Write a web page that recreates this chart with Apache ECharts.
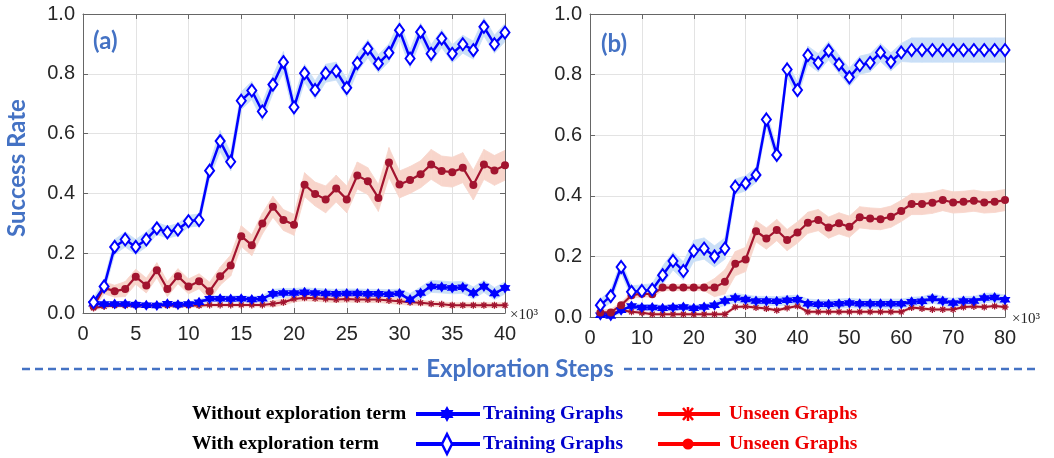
<!DOCTYPE html>
<html><head><meta charset="utf-8">
<script src="https://cdn.jsdelivr.net/npm/echarts@6/dist/echarts.min.js"></script>
<style>html,body{margin:0;padding:0;background:#fff;}#c{width:1054px;height:458px;}</style>
</head><body><div id="c"></div>
<script>
// ---------- DATA ----------
const yTickLabels = ['0.0','0.2','0.4','0.6','0.8','1.0'];
const stepsA = [1,2,3,4,5,6,7,8,9,10,11,12,13,14,15,16,17,18,19,20,21,22,23,24,25,26,27,28,29,30,31,32,33,34,35,36,37,38,39,40];
const stepsB = [2,4,6,8,10,12,14,16,18,20,22,24,26,28,30,32,34,36,38,40,42,44,46,48,50,52,54,56,58,60,62,64,66,68,70,72,74,76,78,80];

// panel (a)
const aTrainWith = [0.036,0.089,0.221,0.246,0.221,0.246,0.283,0.270,0.279,0.307,0.311,0.476,0.575,0.506,0.710,0.744,0.674,0.764,0.839,0.688,0.802,0.746,0.802,0.809,0.753,0.836,0.884,0.834,0.870,0.946,0.851,0.940,0.867,0.918,0.867,0.899,0.879,0.957,0.899,0.938];
const aUnseenWith = [0.022,0.084,0.073,0.080,0.121,0.092,0.143,0.080,0.123,0.089,0.106,0.073,0.123,0.159,0.257,0.227,0.299,0.355,0.311,0.295,0.429,0.398,0.380,0.416,0.380,0.460,0.441,0.385,0.503,0.430,0.445,0.464,0.497,0.475,0.471,0.486,0.428,0.497,0.477,0.494];
const aTrainWithout = [0.031,0.030,0.030,0.030,0.028,0.026,0.025,0.031,0.028,0.030,0.036,0.048,0.048,0.047,0.048,0.045,0.048,0.064,0.067,0.067,0.069,0.067,0.065,0.064,0.065,0.065,0.064,0.064,0.063,0.065,0.045,0.067,0.089,0.087,0.084,0.086,0.067,0.089,0.065,0.084];
const aUnseenWithout = [0.017,0.022,0.025,0.025,0.025,0.025,0.025,0.025,0.025,0.025,0.025,0.027,0.027,0.027,0.027,0.027,0.027,0.031,0.036,0.047,0.051,0.049,0.047,0.045,0.047,0.045,0.045,0.045,0.042,0.039,0.036,0.034,0.031,0.029,0.026,0.026,0.026,0.026,0.026,0.026];
// half-widths of shaded bands (a)
const aTrainWithSpread = [0.015,0.02,0.025,0.025,0.025,0.025,0.02,0.02,0.02,0.02,0.02,0.025,0.035,0.03,0.03,0.03,0.03,0.03,0.035,0.03,0.03,0.03,0.03,0.03,0.03,0.03,0.03,0.03,0.03,0.03,0.03,0.03,0.03,0.03,0.03,0.03,0.03,0.03,0.03,0.03];
const aUnseenWithSpread = [0.01,0.02,0.02,0.025,0.025,0.025,0.025,0.025,0.025,0.025,0.025,0.03,0.03,0.035,0.035,0.035,0.035,0.035,0.035,0.035,0.04,0.04,0.045,0.045,0.045,0.045,0.045,0.045,0.05,0.045,0.045,0.045,0.05,0.05,0.05,0.05,0.05,0.05,0.05,0.05];
const aTrainWithoutSpread = [0.008,0.008,0.008,0.008,0.008,0.008,0.008,0.008,0.008,0.008,0.008,0.01,0.01,0.01,0.01,0.01,0.01,0.015,0.015,0.015,0.015,0.015,0.015,0.015,0.015,0.015,0.015,0.015,0.015,0.015,0.02,0.02,0.02,0.02,0.02,0.02,0.02,0.02,0.02,0.02];
const aUnseenWithoutSpread = [0.006,0.006,0.006,0.006,0.006,0.006,0.006,0.006,0.006,0.006,0.006,0.006,0.006,0.006,0.006,0.006,0.006,0.01,0.01,0.01,0.01,0.01,0.01,0.01,0.01,0.01,0.01,0.01,0.01,0.01,0.01,0.008,0.008,0.008,0.008,0.008,0.008,0.008,0.008,0.008];

// panel (b)
const bTrainWith = [0.039,0.069,0.165,0.083,0.086,0.090,0.138,0.185,0.152,0.218,0.226,0.200,0.226,0.430,0.441,0.469,0.652,0.535,0.817,0.749,0.864,0.839,0.879,0.834,0.791,0.831,0.839,0.873,0.842,0.873,0.881,0.881,0.881,0.881,0.881,0.881,0.881,0.881,0.881,0.881];
const bUnseenWith = [0.015,0.015,0.039,0.072,0.077,0.075,0.097,0.097,0.097,0.097,0.097,0.097,0.116,0.176,0.190,0.283,0.259,0.287,0.254,0.279,0.311,0.320,0.295,0.309,0.298,0.329,0.325,0.323,0.331,0.350,0.373,0.373,0.377,0.386,0.378,0.380,0.384,0.378,0.380,0.386];
const bTrainWithout = [0.006,0.003,0.022,0.036,0.031,0.031,0.029,0.031,0.033,0.029,0.033,0.039,0.053,0.063,0.058,0.053,0.053,0.052,0.055,0.057,0.044,0.042,0.042,0.044,0.046,0.044,0.044,0.044,0.044,0.044,0.050,0.052,0.061,0.053,0.046,0.053,0.053,0.063,0.064,0.057];
const bUnseenWithout = [0.011,0.011,0.022,0.017,0.014,0.009,0.009,0.009,0.009,0.009,0.009,0.009,0.009,0.033,0.035,0.031,0.028,0.022,0.030,0.036,0.017,0.017,0.017,0.017,0.017,0.017,0.017,0.017,0.017,0.017,0.031,0.028,0.025,0.025,0.025,0.033,0.035,0.033,0.036,0.033];
// half-widths of shaded bands (b)
const bTrainWithSpread = [0.02,0.02,0.02,0.02,0.02,0.02,0.03,0.03,0.03,0.035,0.035,0.035,0.035,0.025,0.025,0.025,0.025,0.025,0.025,0.025,0.03,0.03,0.03,0.03,0.03,0.03,0.03,0.03,0.03,0.03,0.04,0.04,0.04,0.04,0.04,0.04,0.04,0.04,0.04,0.04];
const bUnseenWithSpread = [0.01,0.01,0.01,0.01,0.01,0.01,0.01,0.01,0.01,0.01,0.01,0.03,0.04,0.04,0.04,0.035,0.035,0.035,0.035,0.035,0.035,0.035,0.035,0.035,0.035,0.035,0.035,0.035,0.035,0.035,0.035,0.035,0.035,0.035,0.035,0.035,0.035,0.035,0.035,0.035];
const bTrainWithoutSpread = [0.01,0.01,0.01,0.01,0.01,0.01,0.01,0.01,0.01,0.01,0.01,0.01,0.015,0.015,0.015,0.015,0.015,0.015,0.015,0.015,0.015,0.015,0.015,0.015,0.015,0.015,0.015,0.015,0.015,0.015,0.015,0.015,0.015,0.015,0.015,0.015,0.015,0.015,0.015,0.015];
const bUnseenWithoutSpread = [0.005,0.005,0.005,0.005,0.005,0.005,0.005,0.005,0.005,0.005,0.005,0.005,0.005,0.005,0.005,0.005,0.005,0.005,0.005,0.005,0.005,0.005,0.005,0.005,0.005,0.005,0.005,0.005,0.005,0.005,0.005,0.005,0.005,0.005,0.005,0.005,0.005,0.005,0.005,0.005];

// ---------- STYLE ----------
const BLUE = '#0000ff', DRED = '#a2142f', BBAND = '#cadff7', RBAND = '#f8d5cb';
const AX = '#262626', LBLUE = '#4472c4';

function hexagramPts(cx, cy, rx, ry, inner) {
  const pts = [];
  for (let k = 0; k < 12; k++) {
    const r = k % 2 === 0 ? 1 : inner;
    const a = -Math.PI / 2 + k * Math.PI / 6;
    pts.push([cx + rx * r * Math.cos(a), cy + ry * r * Math.sin(a)]);
  }
  return pts;
}
function asteriskD() {
  let d = '';
  const w = 9, L = 50;
  [0, 45, 90, 135].forEach(deg => {
    const t = deg * Math.PI / 180, dx = Math.cos(t), dy = Math.sin(t), nx = -dy, ny = dx;
    const p = [[50 + L*dx + w*nx, 50 + L*dy + w*ny],[50 - L*dx + w*nx, 50 - L*dy + w*ny],[50 - L*dx - w*nx, 50 - L*dy - w*ny],[50 + L*dx - w*nx, 50 + L*dy - w*ny]];
    d += 'M' + p.map(q => q[0].toFixed(2) + ',' + q[1].toFixed(2)).join(' L') + ' Z ';
  });
  return d;
}
const STAR = 'M' + hexagramPts(50, 50, 50, 50, 0.58).map(p => p[0].toFixed(2) + ',' + p[1].toFixed(2)).join(' L') + ' Z';
const AST = asteriskD();

function pairs(xs, ys) { return xs.map((x, i) => [x, ys[i]]); }
// shaded band drawn as a custom series: one quad per segment, positioned via api.coord
function band(xs, ys, sp, color, gi) {
  const data = [];
  for (let i = 0; i < xs.length - 1; i++) {
    data.push([xs[i], Math.max(0, ys[i] - sp[i]), Math.min(1, ys[i] + sp[i]),
               xs[i+1], Math.max(0, ys[i+1] - sp[i+1]), Math.min(1, ys[i+1] + sp[i+1])]);
  }
  return {
    type: 'custom', xAxisIndex: gi*2, yAxisIndex: gi*2, silent: true, z: 1, clip: true,
    data: data,
    renderItem: function (params, api) {
      const a = api.coord([api.value(0), api.value(1)]);
      const b = api.coord([api.value(0), api.value(2)]);
      const c = api.coord([api.value(3), api.value(5)]);
      const d = api.coord([api.value(3), api.value(4)]);
      return { type: 'polygon', shape: { points: [a, b, c, d] },
        style: { fill: color, stroke: color, lineWidth: 0.8 } };
    }
  };
}
function mainLine(xs, ys, gi, kind) {
  const s = { type: 'line', xAxisIndex: gi*2, yAxisIndex: gi*2, data: pairs(xs, ys), z: 3, showAllSymbol: true };
  if (kind === 'diamond') {
    Object.assign(s, { symbol: 'diamond', symbolSize: [9, 12], lineStyle: { color: BLUE, width: 2.5 }, itemStyle: { color: '#fff', borderColor: BLUE, borderWidth: 2 } });
  } else if (kind === 'star') {
    Object.assign(s, { symbol: 'path://' + STAR, symbolSize: 11, lineStyle: { color: BLUE, width: 2.5 }, itemStyle: { color: BLUE } });
  } else if (kind === 'circle') {
    Object.assign(s, { symbol: 'circle', symbolSize: 8, lineStyle: { color: DRED, width: 2.2 }, itemStyle: { color: DRED } });
  } else {
    Object.assign(s, { symbol: 'path://' + AST, symbolSize: 7, lineStyle: { color: DRED, width: 2 }, itemStyle: { color: DRED } });
  }
  return s;
}

const grids = [
  { left: 83, top: 14, width: 422, height: 299 },
  { left: 590, top: 14, width: 415, height: 303 }
];
const xMax = [40, 80], xInt = [5, 10];
const xAxes = [], yAxes = [];
[0, 1].forEach(g => {
  const common = { gridIndex: g, type: 'value', min: 0, max: xMax[g], interval: xInt[g],
    axisLine: { show: true, onZero: false, lineStyle: { color: '#666', width: 1 } },
    axisTick: { show: true, inside: true, length: 5, lineStyle: { color: '#666' } } };
  xAxes.push(Object.assign({}, common, { position: 'bottom',
    axisLabel: { show: true, color: AX, fontSize: 20, fontFamily: 'Liberation Sans', margin: 11 },
    splitLine: { show: true, lineStyle: { color: '#e3e3e3', width: 1 } } }));
  xAxes.push(Object.assign({}, common, { position: 'top', axisLabel: { show: false }, splitLine: { show: false } }));
  const ycommon = { gridIndex: g, type: 'value', min: 0, max: 1, interval: 0.2,
    axisLine: { show: true, onZero: false, lineStyle: { color: '#666', width: 1 } },
    axisTick: { show: true, inside: true, length: 5, lineStyle: { color: '#666' } } };
  yAxes.push(Object.assign({}, ycommon, { position: 'left',
    axisLabel: { show: true, color: AX, fontSize: 20, fontFamily: 'Liberation Sans', margin: 8,
      formatter: v => yTickLabels[Math.round(v / 0.2)] },
    splitLine: { show: true, lineStyle: { color: '#e3e3e3', width: 1 } } }));
  yAxes.push(Object.assign({}, ycommon, { position: 'right', axisLabel: { show: false }, splitLine: { show: false } }));
});

const series = [
  band(stepsA, aTrainWith, aTrainWithSpread, BBAND, 0),
  band(stepsA, aUnseenWith, aUnseenWithSpread, RBAND, 0),
  band(stepsA, aTrainWithout, aTrainWithoutSpread, BBAND, 0),
  band(stepsA, aUnseenWithout, aUnseenWithoutSpread, RBAND, 0),
  band(stepsB, bTrainWith, bTrainWithSpread, BBAND, 1),
  band(stepsB, bUnseenWith, bUnseenWithSpread, RBAND, 1),
  band(stepsB, bTrainWithout, bTrainWithoutSpread, BBAND, 1),
  band(stepsB, bUnseenWithout, bUnseenWithoutSpread, RBAND, 1),
  mainLine(stepsA, aUnseenWithout, 0, 'ast'),
  mainLine(stepsA, aTrainWithout, 0, 'star'),
  mainLine(stepsA, aUnseenWith, 0, 'circle'),
  mainLine(stepsA, aTrainWith, 0, 'diamond'),
  mainLine(stepsB, bUnseenWithout, 1, 'ast'),
  mainLine(stepsB, bTrainWithout, 1, 'star'),
  mainLine(stepsB, bUnseenWith, 1, 'circle'),
  mainLine(stepsB, bTrainWith, 1, 'diamond')
];

const SERIF = 'bold 19.5px "Liberation Serif", "DejaVu Serif", serif';
const rows = [
  { y: 414, label: 'Without exploration term', blue: 'star', red: 'ast' },
  { y: 444, label: 'With exploration term', blue: 'diamond', red: 'circle' }
];
const graphic = [
  { type: 'text', z: 100, x: 93, y: 41, style: { text: '(a)', font: 'bold 24px Lato, "Open Sans", sans-serif', fill: LBLUE, verticalAlign: 'middle' } },
  { type: 'text', z: 100, x: 601, y: 44, style: { text: '(b)', font: 'bold 24px Lato, "Open Sans", sans-serif', fill: LBLUE, verticalAlign: 'middle' } },
  { type: 'text', z: 100, x: 17, y: 168, rotation: Math.PI / 2, style: { text: 'Success Rate', font: 'bold 24px Lato, "Open Sans", sans-serif', fill: LBLUE, align: 'center', verticalAlign: 'middle' } },
  { type: 'text', z: 100, x: 510, y: 315, style: { text: '×10³', font: '15px "Liberation Serif", serif', fill: AX, verticalAlign: 'middle' } },
  { type: 'text', z: 100, x: 1012, y: 319, style: { text: '×10³', font: '15px "Liberation Serif", serif', fill: AX, verticalAlign: 'middle' } },
  { type: 'line', z: 100, shape: { x1: 22, y1: 369, x2: 418, y2: 369 }, style: { stroke: LBLUE, lineWidth: 2.5, lineDash: [8, 5] } },
  { type: 'line', z: 100, shape: { x1: 624, y1: 369, x2: 1036, y2: 369 }, style: { stroke: LBLUE, lineWidth: 2.5, lineDash: [8, 5] } },
  { type: 'text', z: 100, x: 520, y: 369, style: { text: 'Exploration Steps', font: 'bold 24px Lato, "Open Sans", sans-serif', fill: LBLUE, align: 'center', verticalAlign: 'middle' } }
];
rows.forEach(r => {
  graphic.push({ type: 'text', z: 100, x: 192, y: r.y, style: { text: r.label, font: SERIF, fill: '#000', verticalAlign: 'middle' } });
  graphic.push({ type: 'line', z: 100, shape: { x1: 416, y1: r.y, x2: 480, y2: r.y }, style: { stroke: BLUE, lineWidth: 4 } });
  if (r.blue === 'star') {
    graphic.push({ type: 'polygon', z: 101, shape: { points: hexagramPts(447, r.y, 7.5, 8, 0.58) }, style: { fill: BLUE } });
  } else {
    graphic.push({ type: 'polygon', z: 101, shape: { points: [[447, r.y - 10], [452, r.y], [447, r.y + 10], [442, r.y]] }, style: { fill: '#fff', stroke: BLUE, lineWidth: 2.5 } });
  }
  graphic.push({ type: 'text', z: 100, x: 483, y: r.y, style: { text: 'Training Graphs', font: SERIF, fill: '#0000cc', verticalAlign: 'middle' } });
  graphic.push({ type: 'line', z: 100, shape: { x1: 658, y1: r.y, x2: 720, y2: r.y }, style: { stroke: '#ff0000', lineWidth: 4 } });
  if (r.red === 'ast') {
    [[-5, -6, 5, 6], [-5, 6, 5, -6], [0, -7, 0, 7]].forEach(s => {
      graphic.push({ type: 'line', z: 101, shape: { x1: 688 + s[0], y1: r.y + s[1], x2: 688 + s[2], y2: r.y + s[3] }, style: { stroke: '#ff0000', lineWidth: 2.5 } });
    });
  } else {
    graphic.push({ type: 'circle', z: 101, shape: { cx: 688, cy: r.y, r: 5.5 }, style: { fill: '#ff0000' } });
  }
  graphic.push({ type: 'text', z: 100, x: 729, y: r.y, style: { text: 'Unseen Graphs', font: SERIF, fill: '#ee0000', verticalAlign: 'middle' } });
});

const chart = echarts.init(document.getElementById('c'));
chart.setOption({
  animation: false,
  backgroundColor: '#fff',
  grid: grids,
  xAxis: xAxes,
  yAxis: yAxes,
  series: series,
  graphic: graphic
});
</script></body></html>
